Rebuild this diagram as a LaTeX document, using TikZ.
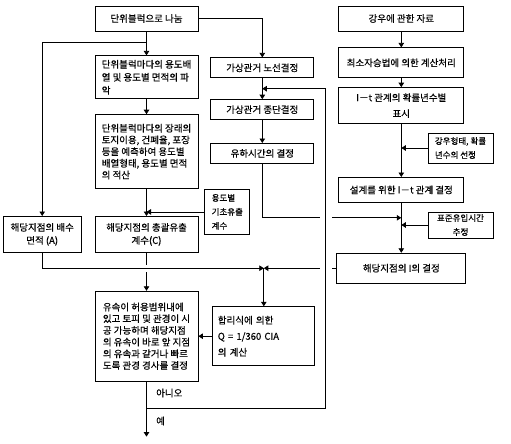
\documentclass[tikz,border=0pt]{standalone}
\usepackage{fontspec}
\usepackage{tikz}
\usetikzlibrary{arrows.meta,positioning,calc}
\newfontfamily\krfont{Noto Sans CJK KR}[FakeBold=0.4]
\tikzset{
  stepbox/.style={draw, line width=0.8pt, inner sep=2pt, align=center,
    font=\krfont\fontsize{9.5}{13}\selectfont},
  leftbox/.style={align=left},
  tightlines/.style={font=\krfont\fontsize{9.5}{11.7}\selectfont},
  widelines/.style={font=\krfont\fontsize{9.5}{16}\selectfont},
  smalltext/.style={font=\krfont\fontsize{8.5}{14}\selectfont},
  mainbox/.style={stepbox, minimum width=103pt},
  rightbox/.style={stepbox, minimum width=125pt},
  sidebox/.style={stepbox, smalltext, minimum width=65pt},
  arrw/.style={-{Triangle[length=4.5pt,width=5.5pt]}, line width=0.8pt},
  hop/.style={draw=white, line width=#1},
  hop/.default=7pt,
  lbl/.style={font=\krfont\fontsize{9.5}{11}\selectfont, anchor=west, inner sep=0pt},
}
\begin{document}
\begin{tikzpicture}[x=1pt, y=-1pt]
  \useasboundingbox (0,0) rectangle (511,444);

  \node[mainbox, minimum height=25pt] (div) at (146.5,18.5) {단위블럭으로 나눔};
  \node[mainbox, leftbox, minimum height=43pt, below=24pt of div] (arr)
    {단위블럭마다의 용도배\\열 및 용도별 면적의 파\\악};
  \node[mainbox, leftbox, tightlines, minimum height=74pt, below=15pt of arr] (est)
    {단위블럭마다의 장래의\\토지이용, 건폐율, 포장\\등을 예측하여 용도별\\배열형태, 용도별 면적\\의 적산};
  \node[mainbox, minimum height=36pt, below=27pt of est] (coef)
    {해당지점의 총괄유출\\계수(C)};
  \node[stepbox, minimum width=78pt, minimum height=36pt, left=13pt of coef] (area)
    {해당지점의 배수\\면적 (A)};
  \node[stepbox, leftbox, smalltext, minimum width=45pt, minimum height=45pt,
    below right=0pt and 6pt of est.south east] (basecoef)
    {용도별\\기초유출\\계수};
  \node[mainbox, leftbox, tightlines, minimum height=90pt, below=38pt of coef] (flow)
    {유속이 허용범위내에\\있고 토피 및 관경이 시\\공 가능하며 해당지점\\의 유속이 바로 앞 지점\\의 유속과 같거나 빠르\\도록 관경 경사를 결정};
  \node[stepbox, leftbox, widelines, text width=92pt, inner xsep=5pt, minimum height=59pt,
    right=14pt of flow] (qcalc)
    {합리식에 의한\\Q = 1/360 CIA\\의 계산};

  \node[mainbox, minimum height=20pt, below right=2pt and 12pt of arr.north east] (route)
    {가상관거 노선결정};
  \node[mainbox, minimum height=20pt, below=21pt of route] (prof) {가상관거 종단결정};
  \node[mainbox, minimum height=20pt, below=23pt of prof] (ttime) {유하시간의 결정};

  \node[rightbox, minimum height=25pt, right=140pt of div] (rain) {강우에 관한 자료};
  \node[rightbox, minimum height=30pt, below=16pt of rain] (lsq) {최소자승법에 의한 계산처리};
  \node[rightbox, widelines, minimum height=36pt, below=9pt of lsq] (itprob)
    {I－t 관계의 확률년수별\\표시};
  \node[rightbox, minimum height=25pt, below=53pt of itprob] (itdes)
    {설계를 위한 I－t 관계 결정};
  \node[sidebox, leftbox, minimum height=30pt] (rtype) at (460.5,148)
    {강우형태, 확률\\년수의 선정};
  \node[sidebox, minimum height=26pt] (tin) at (460.5,225) {표준유입시간\\추정};
  \node[stepbox, minimum width=129pt, minimum height=30pt, below=50pt of itdes] (ipoint)
    {해당지점의 I의 결정};

  \coordinate (brA) at ($(div.south)!.46!(arr.north)$);
  \coordinate (jn) at (qcalc.north |- ipoint.west);
  \coordinate (tjn) at ($(itdes.south)+(0,15)$);
  \coordinate (loopt) at ($(route.south)!.5!(prof.north)$);
  \coordinate (loopc) at ($(loopt)+(63.5,0)$);
  \coordinate (nojn) at ($(flow.south)+(0,27)$);
  \coordinate (exit) at ($(nojn)+(0,28)$);

  \draw[arrw] (div) -- (arr);
  \draw[arrw] (brA) -| (area);
  \draw[arrw] (div) -| (route);
  \draw[arrw] (arr) -- (est);
  \draw[arrw] (est) -- (coef);
  \draw[arrw] (basecoef.west) -- (basecoef.west -| est.south);
  \draw[arrw] (coef) -- (flow);
  \draw[hop] (area.south |- jn) -- (jn);
  \draw[arrw] (area) |- (jn);

  \draw[arrw] (route) -- (prof);
  \draw[arrw] (prof) -- (ttime);

  \draw[arrw] (rain) -- (lsq);
  \draw[arrw] (lsq) -- (itprob);
  \draw[arrw] (itprob) -- (itdes);
  \draw[arrw] (rtype.west) -- (rtype.west -| itprob.south);
  \draw[arrw] (ttime) |- (tjn);
  \draw[arrw] (tin.west) -- (tin.west -| itdes.south);
  \draw[arrw] (itdes) -- (ipoint);
  \draw[arrw] (ipoint) -- (jn);
  \draw[arrw] (jn) -- (qcalc);
  \draw[arrw] (qcalc) -- (flow);

  \draw[hop=12pt] (loopc |- ttime.south) -- (loopc |- ipoint.south);
  \draw[arrw] (flow) -- (exit);
  \draw[arrw] (nojn) -| (loopc) -- (loopt);
  \node[lbl] (no) at (156,393) {아니오};
  \node[lbl] (yes) at (156,421) {예};
\end{tikzpicture}
\end{document}
